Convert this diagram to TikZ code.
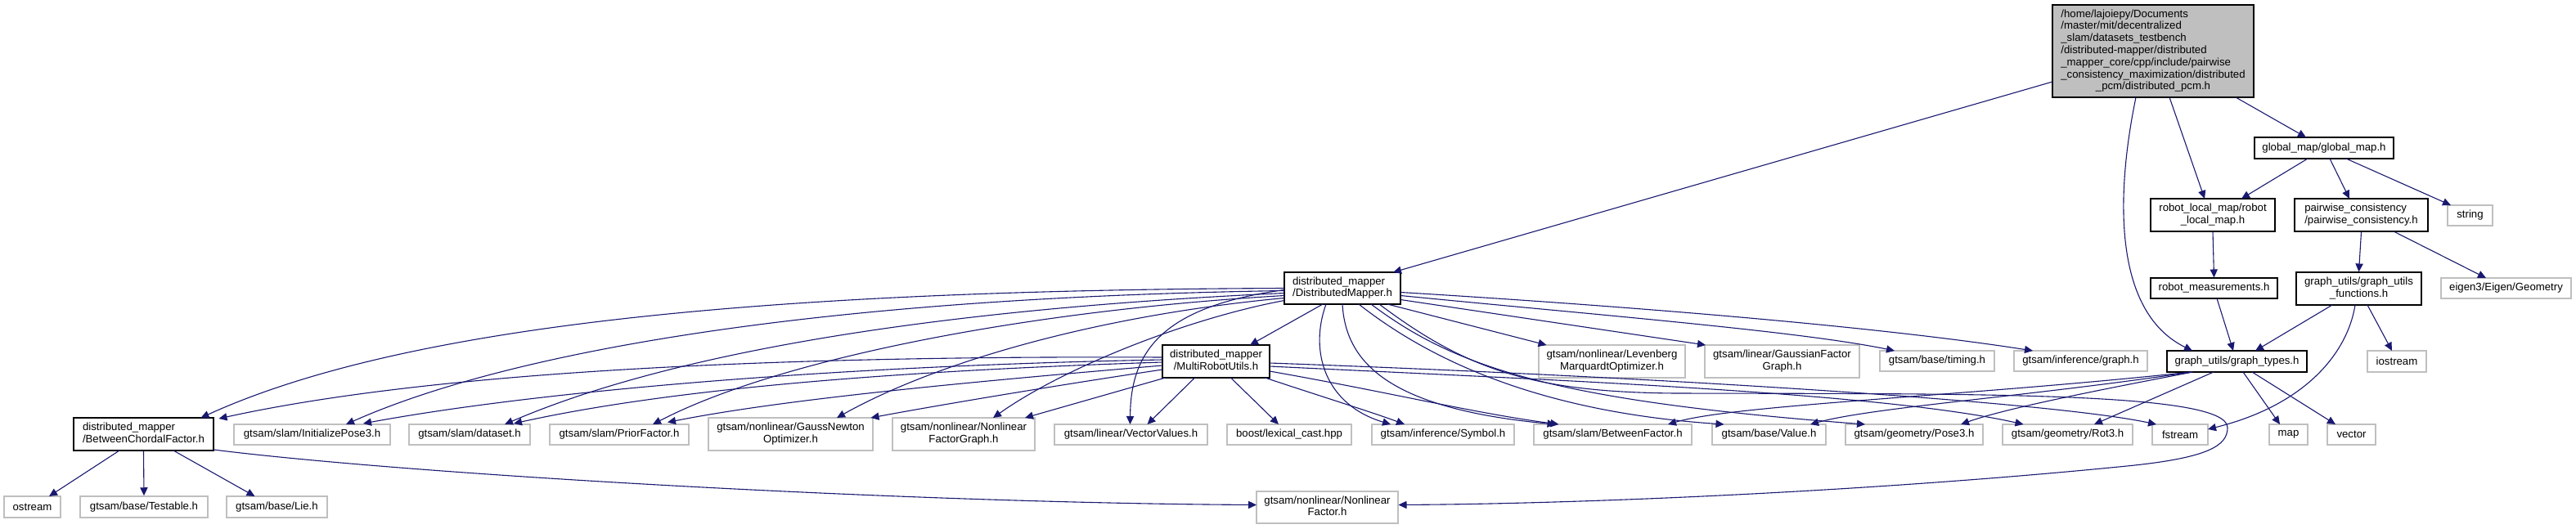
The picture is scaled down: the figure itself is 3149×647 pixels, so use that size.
\documentclass[tikz,border=0pt]{standalone}
\usepackage{fontspec}
\setmainfont{Liberation Sans}
\usetikzlibrary{arrows.meta,calc}
\definecolor{edgeblue}{HTML}{191970}
\definecolor{greyb}{HTML}{BFBFBF}
\newcommand\twoline[2]{\begin{tabular}{@{}l@{}}#1\\\multicolumn{1}{@{}c@{}}{#2}\end{tabular}}
\begin{document}
\begin{tikzpicture}[x=0.5pt,y=-0.5pt,
  font=\fontsize{6.6}{7.4}\selectfont,
  box/.style={draw,fill=white,inner sep=0pt,align=center},
  proj/.style={box,draw=black,line width=0.55pt},
  ext/.style={box,draw=greyb,line width=0.75pt},
  bw/.style={minimum width=#1*0.5pt},
  bh/.style={minimum height=#1*0.5pt},
  e/.style={draw=edgeblue,line width=0.55pt,-{Triangle[length=5pt,width=4.6pt]}}]
\useasboundingbox (0,0) rectangle (3149,647);
\fill[white] (0,0) rectangle (3149,647);
% nodes
\node[proj,fill=greyb,bw=246,bh=113] (root) at (2632,62.5) {\begin{tabular}{@{}l@{}}/home/lajoiepy/Documents\\/master/mit/decentralized\\\_slam/datasets\_testbench\\/distributed-mapper/distributed\\\_mapper\_core/cpp/include/pairwise\\\_consistency\_maximization/distributed\\\multicolumn{1}{@{}c@{}}{\_pcm/distributed\_pcm.h}\end{tabular}};
\node[proj,bw=170,bh=26] (gm) at (2841,181) {global\_map/global\_map.h};
\node[proj,bw=152,bh=40] (rlm) at (2705,263) {\twoline{robot\_local\_map/robot}{\_local\_map.h}};
\node[proj,bw=163,bh=40] (pw) at (2886.5,263) {\twoline{pairwise\_consistency}{/pairwise\_consistency.h}};
\node[ext,bw=55,bh=25] (str) at (3019.5,263.5) {string};
\node[proj,bw=142,bh=39] (dm) at (1641,352.5) {\twoline{distributed\_mapper}{/DistributedMapper.h}};
\node[proj,bw=155,bh=25] (rm) at (2706.5,352.5) {robot\_measurements.h};
\node[proj,bw=153,bh=40] (guf) at (2883.5,353) {\twoline{graph\_utils/graph\_utils}{\_functions.h}};
\node[ext,bw=159,bh=25] (eig) at (3063.5,352.5) {eigen3/Eigen/Geometry};
\node[proj,bw=131,bh=40] (mru) at (1486.5,442) {\twoline{distributed\_mapper}{/MultiRobotUtils.h}};
\node[ext,bw=179,bh=40] (lm) at (1970.5,442) {\twoline{gtsam/nonlinear/Levenberg}{MarquardtOptimizer.h}};
\node[ext,bw=189,bh=40] (gfg) at (2178.5,442) {\twoline{gtsam/linear/GaussianFactor}{Graph.h}};
\node[ext,bw=140,bh=25] (tim) at (2368,441.5) {gtsam/base/timing.h};
\node[ext,bw=163,bh=25] (ig) at (2543.5,441.5) {gtsam/inference/graph.h};
\node[proj,bw=171,bh=26] (gt) at (2734.5,442) {graph\_utils/graph\_types.h};
\node[ext,bw=72,bh=26] (io) at (2930,442) {iostream};
\node[proj,bw=171,bh=40] (bcf) at (175.5,531) {\twoline{distributed\_mapper}{/BetweenChordalFactor.h}};
\node[ext,bw=191,bh=25] (ip3) at (381.5,531.5) {gtsam/slam/InitializePose3.h};
\node[ext,bw=148,bh=25] (ds) at (574,531.5) {gtsam/slam/dataset.h};
\node[ext,bw=170,bh=25] (pf) at (757,531.5) {gtsam/slam/PriorFactor.h};
\node[ext,bw=201,bh=40] (gn) at (966.5,531) {\twoline{gtsam/nonlinear/GaussNewton}{Optimizer.h}};
\node[ext,bw=174,bh=40] (nfg) at (1178,531) {\twoline{gtsam/nonlinear/Nonlinear}{FactorGraph.h}};
\node[ext,bw=187,bh=25] (vv) at (1382.5,531.5) {gtsam/linear/VectorValues.h};
\node[ext,bw=152,bh=25] (lc) at (1576,531.5) {boost/lexical\_cast.hpp};
\node[ext,bw=174,bh=25] (sym) at (1764,531.5) {gtsam/inference/Symbol.h};
\node[ext,bw=193,bh=25] (bf) at (1971.5,531.5) {gtsam/slam/BetweenFactor.h};
\node[ext,bw=139,bh=25] (val) at (2162.5,531.5) {gtsam/base/Value.h};
\node[ext,bw=168,bh=25] (p3) at (2340,531.5) {gtsam/geometry/Pose3.h};
\node[ext,bw=159,bh=25] (r3) at (2527.5,531.5) {gtsam/geometry/Rot3.h};
\node[ext,bw=68,bh=25] (fs) at (2665,531.5) {fstream};
\node[ext,bw=47,bh=25] (map) at (2797.5,531.5) {map};
\node[ext,bw=59,bh=25] (vec) at (2874.5,531.5) {vector};
\node[ext,bw=69,bh=26] (os) at (39.5,620) {ostream};
\node[ext,bw=156,bh=26] (tst) at (176,620) {gtsam/base/Testable.h};
\node[ext,bw=123,bh=26] (lie) at (338.5,620) {gtsam/base/Lie.h};
\node[ext,bw=173,bh=39] (nf) at (1622.5,620.5) {\twoline{gtsam/nonlinear/Nonlinear}{Factor.h}};
% edges from root
\draw[e] ($(root)+(-123,37.5)$) -- ($(dm)+(62,-19.5)$);
\draw[e] ($(root)+(20,56.5)$) -- ($(rlm)+(-10,-20)$);
\draw[e] ($(root)+(101,56.5)$) -- ($(gm)+(-22,-13)$);
\draw[e] ($(root)+(-21,56.5)$) .. controls (2588,230) and (2580,380) .. ($(gt)+(-54.5,-13)$);
% global_map
\draw[e] ($(gm)+(-20,13)$) -- ($(rlm)+(35,-20)$);
\draw[e] ($(gm)+(7,13)$) -- ($(pw)+(-14.5,-20)$);
\draw[e] ($(gm)+(27,13)$) -- ($(str)+(-23.5,-12.5)$);
\draw[e] (rlm.south) -- (rm.north);
\draw[e] ($(rm)+(3.5,12.5)$) -- ($(gt)+(-4.5,-13)$);
\draw[e] (pw.south) -- (guf.north);
\draw[e] ($(pw)+(39.5,20)$) -- ($(eig)+(-24.5,-12.5)$);
\draw[e] ($(guf)+(-32.5,20)$) -- ($(gt)+(22.5,-13)$);
\draw[e] ($(guf)+(10.5,20)$) -- ($(io)+(-6,-13)$);
\draw[e] ($(guf)+(-4.5,20)$) .. controls (2870,430) and (2820,495) .. ($(fs)+(34,-6.5)$);
% graph_types
\draw[e] ($(gt)+(7.5,13)$) -- ($(map)+(-10.5,-12.5)$);
\draw[e] ($(gt)+(18.5,13)$) -- ($(vec)+(-19.5,-12.5)$);
\draw[e] ($(gt)+(-28.5,13)$) -- ($(r3)+(32.5,-12.5)$);
\draw[e] ($(gt)+(-54,13)$) .. controls (2560,478) and (2450,500) .. ($(p3)+(57,-12.5)$);
\draw[e] ($(gt)+(-55,13)$) .. controls (2480,485) and (2290,498) .. ($(val)+(50.5,-12.5)$);
\draw[e] ($(gt)+(-56,13)$) .. controls (2400,485) and (2120,495) .. ($(bf)+(67.5,-12.5)$);
% DistributedMapper
\draw[e] ($(dm)+(-24,19.5)$) -- ($(mru)+(41.5,-20)$);
\draw[e] ($(dm)+(55,19.5)$) -- ($(lm)+(-80,-20)$);
\draw[e] ($(dm)+(71,14)$) -- ($(gfg)+(-93.5,-20)$);
\draw[e] ($(dm)+(71,9)$) .. controls (1950,385) and (2200,405) .. ($(tim)+(-52,-12.5)$);
\draw[e] ($(dm)+(71,5)$) .. controls (2000,375) and (2300,400) .. ($(ig)+(-58.5,-12.5)$);
\draw[e] ($(dm)+(-71,0)$) .. controls (950,355) and (500,395) .. ($(bcf)+(70,-20)$);
\draw[e] ($(dm)+(-71,3)$) .. controls (950,365) and (600,440) .. ($(ip3)+(41.5,-12.5)$);
\draw[e] ($(dm)+(-71,6)$) .. controls (1100,380) and (800,440) .. ($(ds)+(43,-12.5)$);
\draw[e] ($(dm)+(-71,9)$) .. controls (1250,380) and (950,440) .. ($(pf)+(41,-12.5)$);
\draw[e] ($(dm)+(-71,12)$) .. controls (1350,385) and (1150,440) .. ($(gn)+(56.5,-20)$);
\draw[e] ($(dm)+(-71,15)$) .. controls (1450,390) and (1300,450) .. ($(nfg)+(36,-20)$);
\draw[e] ($(dm)+(-71,2)$) .. controls (1420,375) and (1382,430) .. ($(vv)+(-1,-12.5)$);
\draw[e] ($(dm)+(-20,19.5)$) .. controls (1600,430) and (1620,495) .. ($(sym)+(-64,-12.5)$);
\draw[e] ($(dm)+(0,19.5)$) .. controls (1645,445) and (1700,500) .. ($(bf)+(-70,-12.5)$);
\draw[e] ($(dm)+(20,19.5)$) .. controls (1760,450) and (1900,505) .. ($(val)+(-55,-12.5)$);
\draw[e] ($(dm)+(35,19.5)$) .. controls (1780,450) and (1900,490) .. ($(p3)+(-60,-12.5)$);
\draw[e] ($(dm)+(45,19.5)$) .. controls (1790,450) and (1870,480) .. (2050,481)
  .. controls (2400,482) and (2723,478) .. (2723,523)
  .. controls (2723,545) and (2700,560) .. (2600,570)
  .. controls (2300,600) and (1950,616) .. ($(nf)+(87,-3)$);
% MultiRobotUtils
\draw[e] ($(mru)+(-65.5,-5)$) .. controls (1000,435) and (550,450) .. ($(bcf)+(92,-19)$);
\draw[e] ($(mru)+(-65.5,-2)$) .. controls (1000,448) and (650,480) .. ($(ip3)+(62.5,-13.5)$);
\draw[e] ($(mru)+(-65.5,1)$) .. controls (1050,455) and (800,480) .. ($(ds)+(54,-13.5)$);
\draw[e] ($(mru)+(-65.5,5)$) .. controls (1150,470) and (950,490) .. ($(pf)+(59,-15)$);
\draw[e] ($(mru)+(-65.5,10)$) .. controls (1300,470) and (1150,495) .. ($(gn)+(98,-20)$);
\draw[e] ($(mru)+(-62,20)$) -- ($(nfg)+(75,-20)$);
\draw[e] ($(mru)+(-26,20)$) -- ($(vv)+(20,-12.5)$);
\draw[e] ($(mru)+(18,20)$) -- ($(lc)+(-13,-12.5)$);
\draw[e] ($(mru)+(60,20)$) .. controls (1600,480) and (1680,505) .. ($(sym)+(-47,-12.5)$);
\draw[e] ($(mru)+(65.5,12)$) .. controls (1700,480) and (1800,505) .. ($(bf)+(-66,-12.5)$);
\draw[e] ($(mru)+(65.5,6)$) .. controls (1900,465) and (2300,480) .. ($(r3)+(-54,-12.5)$);
\draw[e] ($(mru)+(65.5,2)$) .. controls (2000,460) and (2500,490) .. ($(fs)+(-29,-12.5)$);
% BetweenChordalFactor
\draw[e] ($(bcf)+(-29.5,20)$) -- ($(os)+(20.5,-13)$);
\draw[e] (bcf.south) -- (tst.north);
\draw[e] ($(bcf)+(36.5,20)$) -- ($(lie)+(-27,-13)$);
\draw[e] ($(bcf)+(85.5,19)$) .. controls (500,580) and (1100,615) .. ($(nf)+(-86.5,-3)$);
\end{tikzpicture}
\end{document}
